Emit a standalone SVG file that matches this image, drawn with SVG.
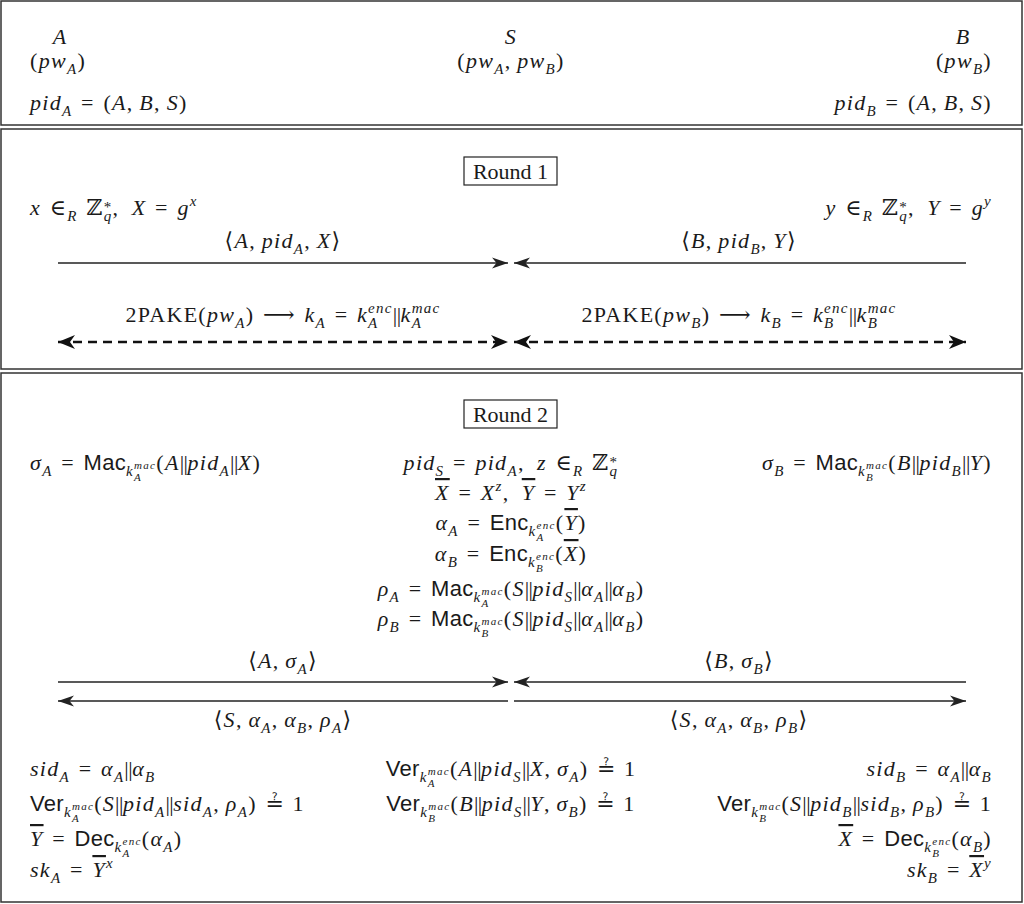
<svg xmlns="http://www.w3.org/2000/svg" width="1024" height="904" viewBox="0 0 1024 904">
<style>
.t{font-family:"Liberation Serif","DejaVu Serif",serif;font-size:22px;fill:#1a1a1a;letter-spacing:1.3px}
.r{letter-spacing:0}
.i{font-style:italic}
.sf{font-family:"Liberation Sans","DejaVu Sans",sans-serif;font-style:normal;letter-spacing:0.3px}
.s1{font-size:15px}
.s2{font-size:11px}
.b{font-style:normal;letter-spacing:-0.5px}
.q{font-family:"DejaVu Sans",sans-serif;font-style:normal;letter-spacing:0}
.ov{text-decoration:overline}
.panel{fill:#fff;stroke:#333;stroke-width:1.5}
.box{fill:none;stroke:#222;stroke-width:1.2}
.msg{stroke:#222;stroke-width:1.3;fill:none}
.dash{stroke:#111;stroke-width:2.6;stroke-dasharray:9 6;fill:none}
</style>
<defs>
<marker id="ah" markerUnits="userSpaceOnUse" markerWidth="17" markerHeight="12" viewBox="0 0 17 12" refX="16" refY="6" orient="auto-start-reverse"><path d="M0,0.5 L16,6 L0,11.5 L4.5,6 Z" fill="#222"/></marker>
<marker id="ahd" markerUnits="userSpaceOnUse" markerWidth="18" markerHeight="15" viewBox="0 0 18 15" refX="17" refY="7.5" orient="auto-start-reverse"><path d="M0,0.5 L17,7.5 L0,14.5 L5,7.5 Z" fill="#111"/></marker>
</defs>
<rect x="0" y="0" width="1024" height="904" fill="#fff"/>
<g id="panels">
<rect class="panel" x="1" y="1" width="1021" height="124"/>
<rect class="panel" x="1" y="129" width="1021" height="240"/>
<rect class="panel" x="1" y="373" width="1021" height="529"/>
</g>

<g id="party-A">
<text class="t i" x="60" y="44" text-anchor="middle">A</text>
<text class="t" x="30" y="68">(<tspan class="i">pw</tspan><tspan class="i s1" dy="6">A</tspan><tspan dy="-6">)</tspan></text>
<text class="t" x="30" y="110"><tspan class="i">pid</tspan><tspan class="i s1" dy="6">A</tspan><tspan dy="-6">&#x2004;=&#x2004;(<tspan class="i">A</tspan>,&#x2009;<tspan class="i">B</tspan>,&#x2009;<tspan class="i">S</tspan>)</tspan></text>
</g>
<g id="party-S">
<text class="t i" x="511" y="44" text-anchor="middle">S</text>
<text class="t" x="511" y="68" text-anchor="middle">(<tspan class="i">pw</tspan><tspan class="i s1" dy="6">A</tspan><tspan dy="-6">,&#x2009;<tspan class="i">pw</tspan></tspan><tspan class="i s1" dy="6">B</tspan><tspan dy="-6">)</tspan></text>
</g>
<g id="party-B">
<text class="t i" x="963" y="44" text-anchor="middle">B</text>
<text class="t" x="992" y="68" text-anchor="end">(<tspan class="i">pw</tspan><tspan class="i s1" dy="6">B</tspan><tspan dy="-6">)</tspan></text>
<text class="t" x="992" y="110" text-anchor="end"><tspan class="i">pid</tspan><tspan class="i s1" dy="6">B</tspan><tspan dy="-6">&#x2004;=&#x2004;(<tspan class="i">A</tspan>,&#x2009;<tspan class="i">B</tspan>,&#x2009;<tspan class="i">S</tspan>)</tspan></text>
</g>

<g id="round1">
<rect class="box" x="464" y="157" width="93" height="28"/>
<text class="t r" x="510.5" y="179" text-anchor="middle">Round 1</text>
</g>
<g id="r1-A">
<text class="t" x="30" y="215"><tspan class="i">x</tspan>&#x2004;∈<tspan class="i s1" dy="6">R</tspan><tspan dy="-6">&#x2004;ℤ</tspan><tspan class="i s1" dy="6">q</tspan><tspan class="s1" dx="-8.8" dy="-9">*</tspan><tspan dy="3">,&#x2002;<tspan class="i">X</tspan>&#x2004;=&#x2004;<tspan class="i">g</tspan></tspan><tspan class="i s1" dy="-9">x</tspan></text>
</g>
<g id="r1-B">
<text class="t" x="992" y="215" text-anchor="end"><tspan class="i">y</tspan>&#x2004;∈<tspan class="i s1" dy="6">R</tspan><tspan dy="-6">&#x2004;ℤ</tspan><tspan class="i s1" dy="6">q</tspan><tspan class="s1" dx="-8.8" dy="-9">*</tspan><tspan dy="3">,&#x2002;<tspan class="i">Y</tspan>&#x2004;=&#x2004;<tspan class="i">g</tspan></tspan><tspan class="i s1" dy="-9">y</tspan></text>
</g>

<g id="round2">
<rect class="box" x="464" y="400" width="93" height="28"/>
<text class="t r" x="510.5" y="422" text-anchor="middle">Round 2</text>
</g>
<g id="r2-A">
<text class="t" x="30" y="470"><tspan class="i">σ</tspan><tspan class="i s1" dy="6">A</tspan><tspan dy="-6">&#x2004;=&#x2004;<tspan class="sf">Mac</tspan></tspan><tspan class="i s1" dy="6">k</tspan><tspan class="i s2" dy="5">A</tspan><tspan class="i s2" dx="-8" dy="-12">mac</tspan><tspan dy="1">(<tspan class="i">A</tspan><tspan class="b">||</tspan><tspan class="i">pid</tspan></tspan><tspan class="i s1" dy="6">A</tspan><tspan dy="-6"><tspan class="b">||</tspan><tspan class="i">X</tspan>)</tspan></text>
</g>
<g id="r2-S">
<text class="t" x="511" y="470" text-anchor="middle"><tspan class="i">pid</tspan><tspan class="i s1" dy="6">S</tspan><tspan dy="-6">&#x2004;=&#x2004;<tspan class="i">pid</tspan></tspan><tspan class="i s1" dy="6">A</tspan><tspan dy="-6">,&#x2002;<tspan class="i">z</tspan>&#x2004;∈</tspan><tspan class="i s1" dy="6">R</tspan><tspan dy="-6">&#x2004;ℤ</tspan><tspan class="i s1" dy="6">q</tspan><tspan class="s1" dx="-8.8" dy="-9">*</tspan></text>
<text class="t" x="511" y="500" text-anchor="middle"><tspan class="i ov">X</tspan>&#x2004;=&#x2004;<tspan class="i">X</tspan><tspan class="i s1" dy="-9">z</tspan><tspan dy="9">,&#x2002;<tspan class="i ov">Y</tspan>&#x2004;=&#x2004;<tspan class="i">Y</tspan></tspan><tspan class="i s1" dy="-9">z</tspan></text>
<text class="t" x="511" y="530" text-anchor="middle"><tspan class="i">α</tspan><tspan class="i s1" dy="6">A</tspan><tspan dy="-6">&#x2004;=&#x2004;<tspan class="sf">Enc</tspan></tspan><tspan class="i s1" dy="6">k</tspan><tspan class="i s2" dy="5">A</tspan><tspan class="i s2" dx="-8" dy="-12">enc</tspan><tspan dy="1">(<tspan class="i ov">Y</tspan>)</tspan></text>
<text class="t" x="511" y="561" text-anchor="middle"><tspan class="i">α</tspan><tspan class="i s1" dy="6">B</tspan><tspan dy="-6">&#x2004;=&#x2004;<tspan class="sf">Enc</tspan></tspan><tspan class="i s1" dy="6">k</tspan><tspan class="i s2" dy="5">B</tspan><tspan class="i s2" dx="-8" dy="-12">enc</tspan><tspan dy="1">(<tspan class="i ov">X</tspan>)</tspan></text>
<text class="t" x="511" y="596" text-anchor="middle"><tspan class="i">ρ</tspan><tspan class="i s1" dy="6">A</tspan><tspan dy="-6">&#x2004;=&#x2004;<tspan class="sf">Mac</tspan></tspan><tspan class="i s1" dy="6">k</tspan><tspan class="i s2" dy="5">A</tspan><tspan class="i s2" dx="-8" dy="-12">mac</tspan><tspan dy="1">(<tspan class="i">S</tspan><tspan class="b">||</tspan><tspan class="i">pid</tspan></tspan><tspan class="i s1" dy="6">S</tspan><tspan dy="-6"><tspan class="b">||</tspan><tspan class="i">α</tspan></tspan><tspan class="i s1" dy="6">A</tspan><tspan dy="-6"><tspan class="b">||</tspan><tspan class="i">α</tspan></tspan><tspan class="i s1" dy="6">B</tspan><tspan dy="-6">)</tspan></text>
<text class="t" x="511" y="626" text-anchor="middle"><tspan class="i">ρ</tspan><tspan class="i s1" dy="6">B</tspan><tspan dy="-6">&#x2004;=&#x2004;<tspan class="sf">Mac</tspan></tspan><tspan class="i s1" dy="6">k</tspan><tspan class="i s2" dy="5">B</tspan><tspan class="i s2" dx="-8" dy="-12">mac</tspan><tspan dy="1">(<tspan class="i">S</tspan><tspan class="b">||</tspan><tspan class="i">pid</tspan></tspan><tspan class="i s1" dy="6">S</tspan><tspan dy="-6"><tspan class="b">||</tspan><tspan class="i">α</tspan></tspan><tspan class="i s1" dy="6">A</tspan><tspan dy="-6"><tspan class="b">||</tspan><tspan class="i">α</tspan></tspan><tspan class="i s1" dy="6">B</tspan><tspan dy="-6">)</tspan></text>
</g>
<g id="r2-B">
<text class="t" x="992" y="470" text-anchor="end"><tspan class="i">σ</tspan><tspan class="i s1" dy="6">B</tspan><tspan dy="-6">&#x2004;=&#x2004;<tspan class="sf">Mac</tspan></tspan><tspan class="i s1" dy="6">k</tspan><tspan class="i s2" dy="5">B</tspan><tspan class="i s2" dx="-8" dy="-12">mac</tspan><tspan dy="1">(<tspan class="i">B</tspan><tspan class="b">||</tspan><tspan class="i">pid</tspan></tspan><tspan class="i s1" dy="6">B</tspan><tspan dy="-6"><tspan class="b">||</tspan><tspan class="i">Y</tspan>)</tspan></text>
</g>

<g id="final-A">
<text class="t" x="30" y="776"><tspan class="i">sid</tspan><tspan class="i s1" dy="6">A</tspan><tspan dy="-6">&#x2004;=&#x2004;<tspan class="i">α</tspan></tspan><tspan class="i s1" dy="6">A</tspan><tspan dy="-6"><tspan class="b">||</tspan><tspan class="i">α</tspan></tspan><tspan class="i s1" dy="6">B</tspan></text>
<text class="t" x="30" y="811"><tspan class="sf">Ver</tspan><tspan class="i s1" dy="6">k</tspan><tspan class="i s2" dy="5">A</tspan><tspan class="i s2" dx="-8" dy="-12">mac</tspan><tspan dy="1">(<tspan class="i">S</tspan><tspan class="b">||</tspan><tspan class="i">pid</tspan></tspan><tspan class="i s1" dy="6">A</tspan><tspan dy="-6"><tspan class="b">||</tspan><tspan class="i">sid</tspan></tspan><tspan class="i s1" dy="6">A</tspan><tspan dy="-6">,&#x2009;<tspan class="i">ρ</tspan></tspan><tspan class="i s1" dy="6">A</tspan><tspan dy="-6">)&#x2004;<tspan class="q">≟</tspan>&#x2004;1</tspan></text>
<text class="t" x="30" y="846"><tspan class="i ov">Y</tspan>&#x2004;=&#x2004;<tspan class="sf">Dec</tspan><tspan class="i s1" dy="6">k</tspan><tspan class="i s2" dy="5">A</tspan><tspan class="i s2" dx="-8" dy="-12">enc</tspan><tspan dy="1">(<tspan class="i">α</tspan></tspan><tspan class="i s1" dy="6">A</tspan><tspan dy="-6">)</tspan></text>
<text class="t" x="30" y="877"><tspan class="i">sk</tspan><tspan class="i s1" dy="6">A</tspan><tspan dy="-6">&#x2004;=&#x2004;<tspan class="i ov">Y</tspan></tspan><tspan class="i s1" dy="-9">x</tspan></text>
</g>
<g id="final-S">
<text class="t" x="511" y="776" text-anchor="middle"><tspan class="sf">Ver</tspan><tspan class="i s1" dy="6">k</tspan><tspan class="i s2" dy="5">A</tspan><tspan class="i s2" dx="-8" dy="-12">mac</tspan><tspan dy="1">(<tspan class="i">A</tspan><tspan class="b">||</tspan><tspan class="i">pid</tspan></tspan><tspan class="i s1" dy="6">S</tspan><tspan dy="-6"><tspan class="b">||</tspan><tspan class="i">X</tspan>,&#x2009;<tspan class="i">σ</tspan></tspan><tspan class="i s1" dy="6">A</tspan><tspan dy="-6">)&#x2004;<tspan class="q">≟</tspan>&#x2004;1</tspan></text>
<text class="t" x="511" y="811" text-anchor="middle"><tspan class="sf">Ver</tspan><tspan class="i s1" dy="6">k</tspan><tspan class="i s2" dy="5">B</tspan><tspan class="i s2" dx="-8" dy="-12">mac</tspan><tspan dy="1">(<tspan class="i">B</tspan><tspan class="b">||</tspan><tspan class="i">pid</tspan></tspan><tspan class="i s1" dy="6">S</tspan><tspan dy="-6"><tspan class="b">||</tspan><tspan class="i">Y</tspan>,&#x2009;<tspan class="i">σ</tspan></tspan><tspan class="i s1" dy="6">B</tspan><tspan dy="-6">)&#x2004;<tspan class="q">≟</tspan>&#x2004;1</tspan></text>
</g>
<g id="final-B">
<text class="t" x="992" y="776" text-anchor="end"><tspan class="i">sid</tspan><tspan class="i s1" dy="6">B</tspan><tspan dy="-6">&#x2004;=&#x2004;<tspan class="i">α</tspan></tspan><tspan class="i s1" dy="6">A</tspan><tspan dy="-6"><tspan class="b">||</tspan><tspan class="i">α</tspan></tspan><tspan class="i s1" dy="6">B</tspan></text>
<text class="t" x="992" y="811" text-anchor="end"><tspan class="sf">Ver</tspan><tspan class="i s1" dy="6">k</tspan><tspan class="i s2" dy="5">B</tspan><tspan class="i s2" dx="-8" dy="-12">mac</tspan><tspan dy="1">(<tspan class="i">S</tspan><tspan class="b">||</tspan><tspan class="i">pid</tspan></tspan><tspan class="i s1" dy="6">B</tspan><tspan dy="-6"><tspan class="b">||</tspan><tspan class="i">sid</tspan></tspan><tspan class="i s1" dy="6">B</tspan><tspan dy="-6">,&#x2009;<tspan class="i">ρ</tspan></tspan><tspan class="i s1" dy="6">B</tspan><tspan dy="-6">)&#x2004;<tspan class="q">≟</tspan>&#x2004;1</tspan></text>
<text class="t" x="992" y="846" text-anchor="end"><tspan class="i ov">X</tspan>&#x2004;=&#x2004;<tspan class="sf">Dec</tspan><tspan class="i s1" dy="6">k</tspan><tspan class="i s2" dy="5">B</tspan><tspan class="i s2" dx="-8" dy="-12">enc</tspan><tspan dy="1">(<tspan class="i">α</tspan></tspan><tspan class="i s1" dy="6">B</tspan><tspan dy="-6">)</tspan></text>
<text class="t" x="992" y="877" text-anchor="end"><tspan class="i">sk</tspan><tspan class="i s1" dy="6">B</tspan><tspan dy="-6">&#x2004;=&#x2004;<tspan class="i ov">X</tspan></tspan><tspan class="i s1" dy="-9">y</tspan></text>
</g>

<g id="connectors">
<line class="msg" x1="58" y1="263" x2="508" y2="263" marker-end="url(#ah)"/>
<line class="msg" x1="966" y1="263" x2="514" y2="263" marker-end="url(#ah)"/>
<line class="dash" x1="58" y1="342" x2="508" y2="342" marker-start="url(#ahd)" marker-end="url(#ahd)"/>
<line class="dash" x1="514" y1="342" x2="966" y2="342" marker-start="url(#ahd)" marker-end="url(#ahd)"/>
<line class="msg" x1="58" y1="682" x2="508" y2="682" marker-end="url(#ah)"/>
<line class="msg" x1="508" y1="701" x2="58" y2="701" marker-end="url(#ah)"/>
<line class="msg" x1="966" y1="682" x2="514" y2="682" marker-end="url(#ah)"/>
<line class="msg" x1="514" y1="701" x2="966" y2="701" marker-end="url(#ah)"/>
<text class="t" x="283" y="248" text-anchor="middle">⟨<tspan class="i">A</tspan>,&#x2009;<tspan class="i">pid</tspan><tspan class="i s1" dy="6">A</tspan><tspan dy="-6">,&#x2009;<tspan class="i">X</tspan>⟩</tspan></text>
<text class="t" x="739" y="248" text-anchor="middle">⟨<tspan class="i">B</tspan>,&#x2009;<tspan class="i">pid</tspan><tspan class="i s1" dy="6">B</tspan><tspan dy="-6">,&#x2009;<tspan class="i">Y</tspan>⟩</tspan></text>
<text class="t" x="283" y="322" text-anchor="middle">2PAKE(<tspan class="i">pw</tspan><tspan class="i s1" dy="6">A</tspan><tspan dy="-6">)&#x2004;⟶&#x2004;<tspan class="i">k</tspan></tspan><tspan class="i s1" dy="6">A</tspan><tspan dy="-6">&#x2004;=&#x2004;<tspan class="i">k</tspan></tspan><tspan class="i s1" dy="6">A</tspan><tspan class="i s1" dx="-10.5" dy="-15">enc</tspan><tspan dy="9"><tspan class="b">||</tspan><tspan class="i">k</tspan></tspan><tspan class="i s1" dy="6">A</tspan><tspan class="i s1" dx="-10.5" dy="-15">mac</tspan></text>
<text class="t" x="739" y="322" text-anchor="middle">2PAKE(<tspan class="i">pw</tspan><tspan class="i s1" dy="6">B</tspan><tspan dy="-6">)&#x2004;⟶&#x2004;<tspan class="i">k</tspan></tspan><tspan class="i s1" dy="6">B</tspan><tspan dy="-6">&#x2004;=&#x2004;<tspan class="i">k</tspan></tspan><tspan class="i s1" dy="6">B</tspan><tspan class="i s1" dx="-10.5" dy="-15">enc</tspan><tspan dy="9"><tspan class="b">||</tspan><tspan class="i">k</tspan></tspan><tspan class="i s1" dy="6">B</tspan><tspan class="i s1" dx="-10.5" dy="-15">mac</tspan></text>
<text class="t" x="283" y="668" text-anchor="middle">⟨<tspan class="i">A</tspan>,&#x2009;<tspan class="i">σ</tspan><tspan class="i s1" dy="6">A</tspan><tspan dy="-6">⟩</tspan></text>
<text class="t" x="739" y="668" text-anchor="middle">⟨<tspan class="i">B</tspan>,&#x2009;<tspan class="i">σ</tspan><tspan class="i s1" dy="6">B</tspan><tspan dy="-6">⟩</tspan></text>
<text class="t" x="283" y="727" text-anchor="middle">⟨<tspan class="i">S</tspan>,&#x2009;<tspan class="i">α</tspan><tspan class="i s1" dy="6">A</tspan><tspan dy="-6">,&#x2009;<tspan class="i">α</tspan></tspan><tspan class="i s1" dy="6">B</tspan><tspan dy="-6">,&#x2009;<tspan class="i">ρ</tspan></tspan><tspan class="i s1" dy="6">A</tspan><tspan dy="-6">⟩</tspan></text>
<text class="t" x="739" y="727" text-anchor="middle">⟨<tspan class="i">S</tspan>,&#x2009;<tspan class="i">α</tspan><tspan class="i s1" dy="6">A</tspan><tspan dy="-6">,&#x2009;<tspan class="i">α</tspan></tspan><tspan class="i s1" dy="6">B</tspan><tspan dy="-6">,&#x2009;<tspan class="i">ρ</tspan></tspan><tspan class="i s1" dy="6">B</tspan><tspan dy="-6">⟩</tspan></text>
</g>
</svg>
